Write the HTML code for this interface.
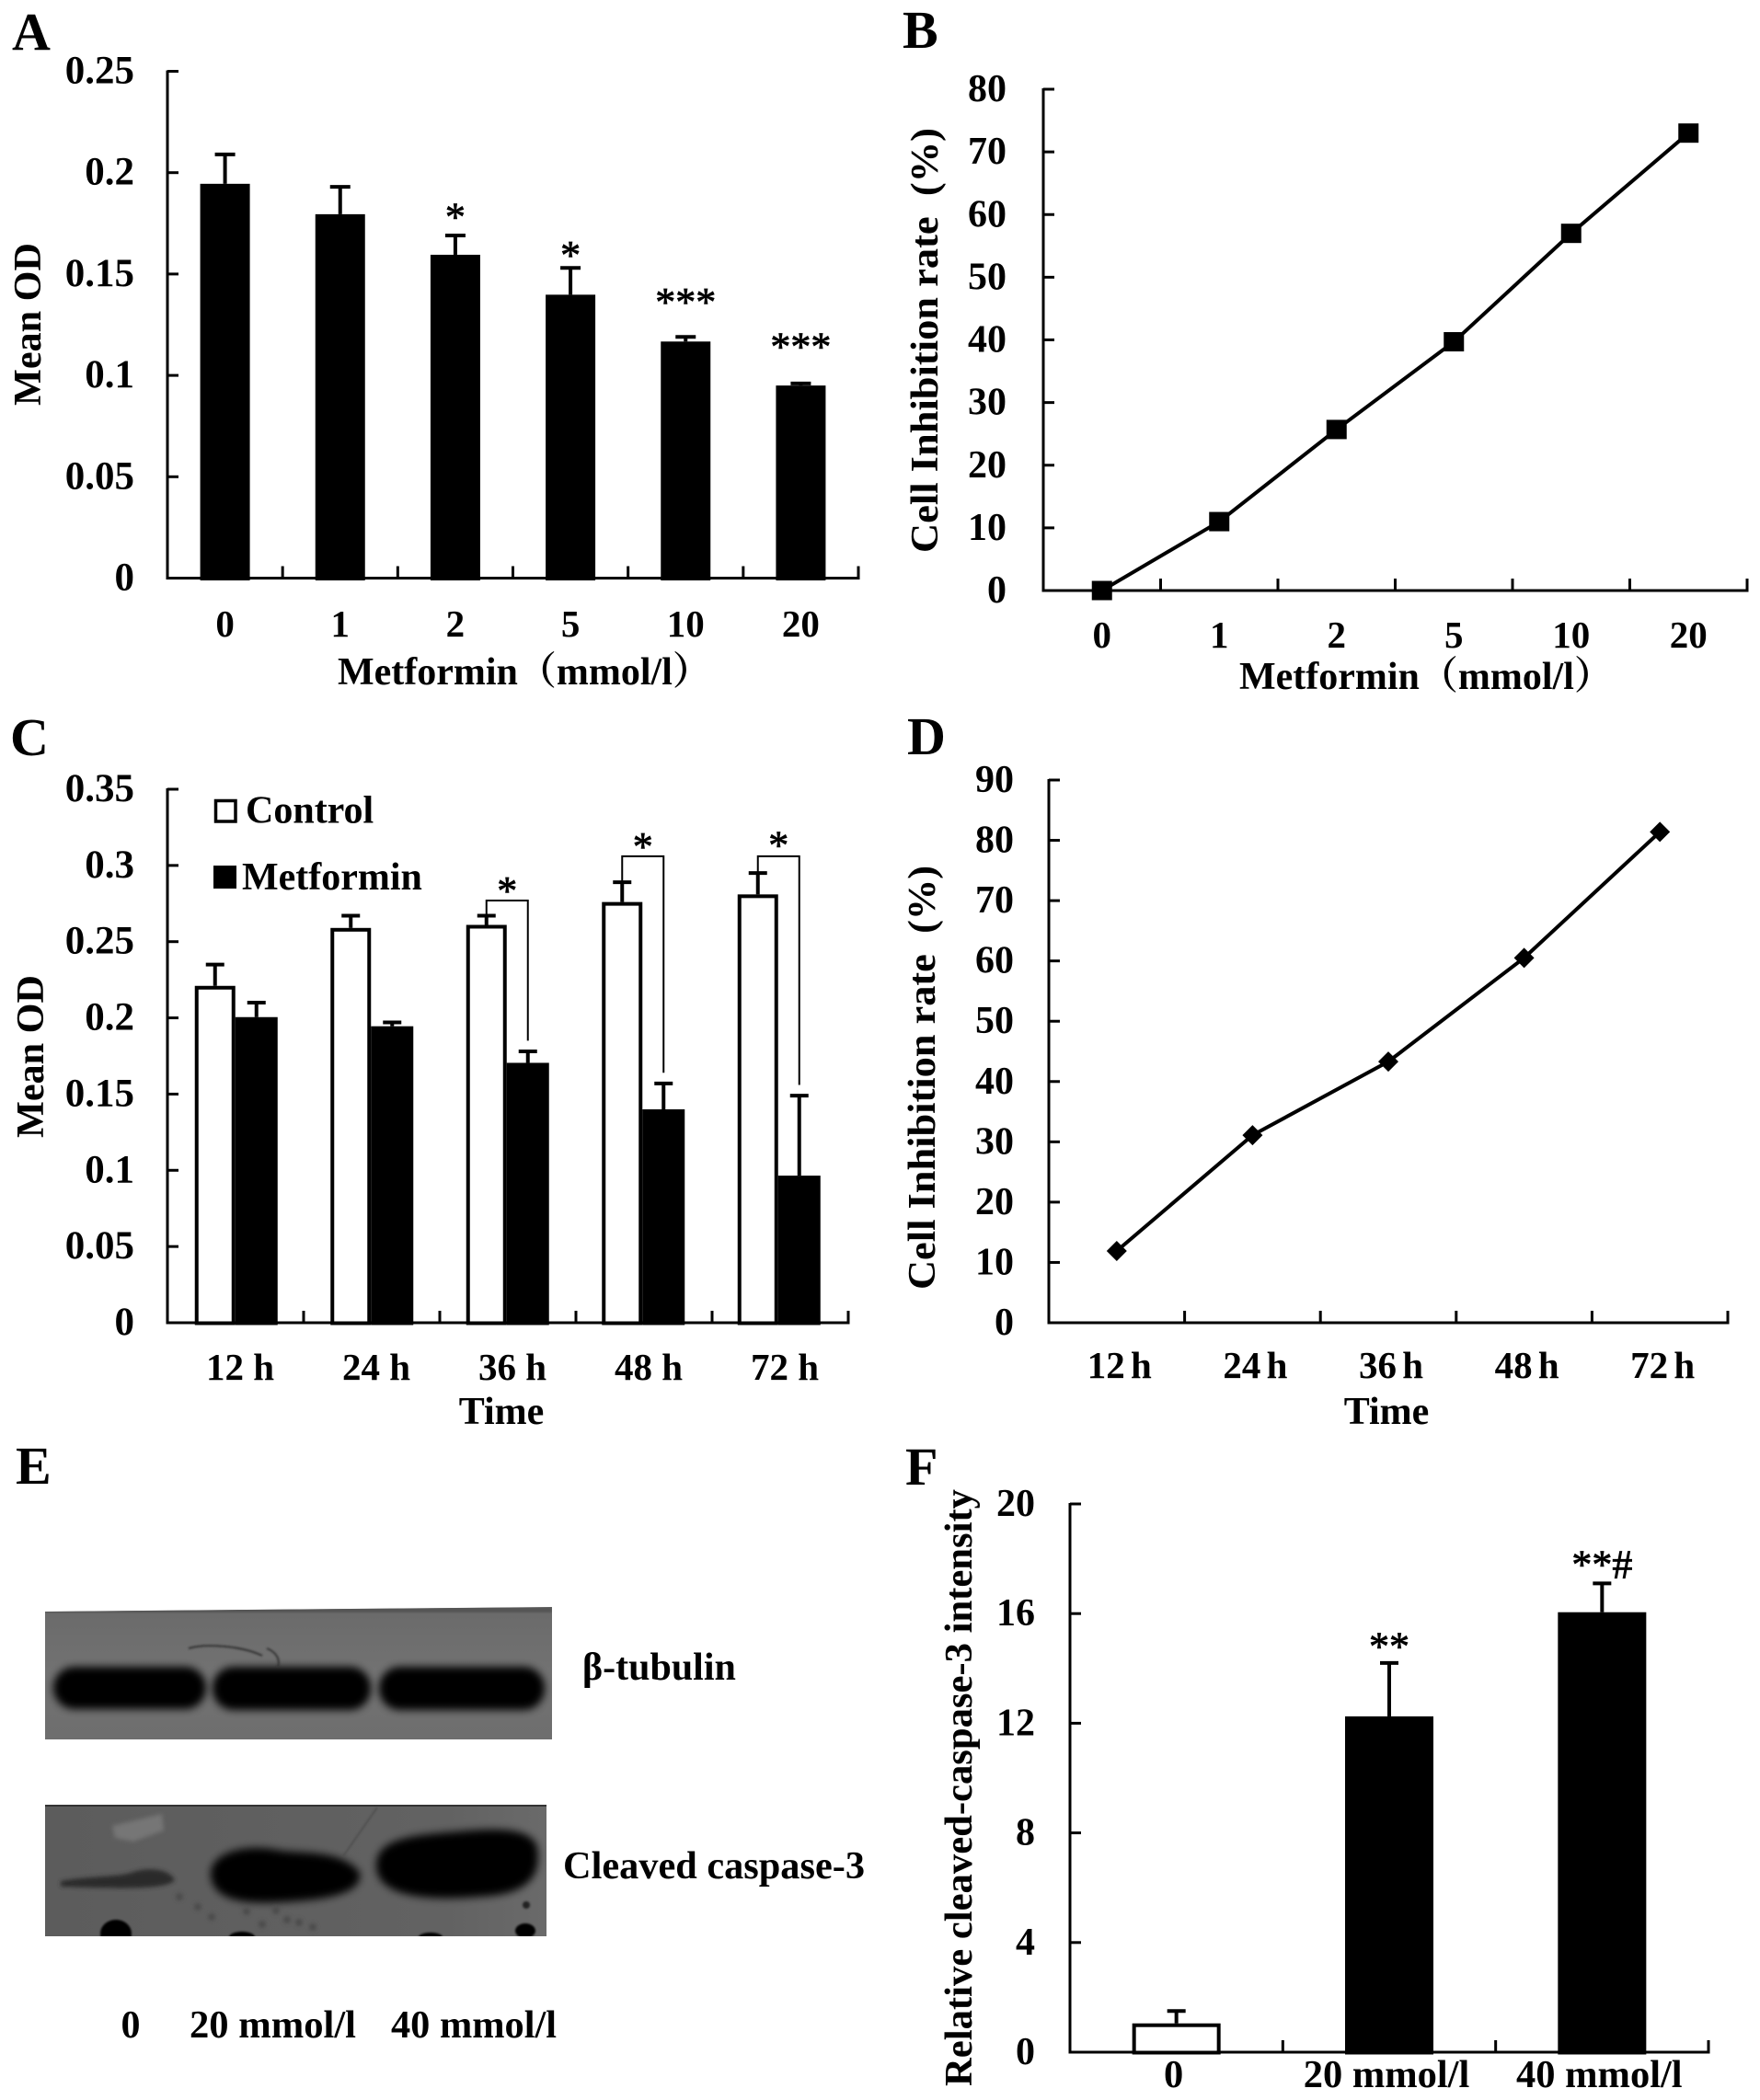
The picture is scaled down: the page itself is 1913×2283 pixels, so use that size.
<!DOCTYPE html>
<html lang="en">
<head>
<meta charset="utf-8">
<title>Metformin inhibition figure</title>
<style>
html,body{margin:0;padding:0;background:#fff;}
svg{display:block;}
text{font-family:"Liberation Serif","Noto Serif CJK SC",serif;font-weight:bold;fill:#000;}
.panel{font-size:58px;}
.title{font-size:42px;}
</style>
</head>
<body>
<svg id="figure" xmlns="http://www.w3.org/2000/svg" width="1913" height="2283" viewBox="0 0 1913 2283">
  <rect width="1913" height="2283" fill="#fff"/>
  <defs>
    <filter id="b1" x="-20%" y="-20%" width="140%" height="140%"><feGaussianBlur stdDeviation="1"/></filter>
    <filter id="b2" x="-20%" y="-20%" width="140%" height="140%"><feGaussianBlur stdDeviation="2.5"/></filter>
    <filter id="b4" x="-20%" y="-40%" width="140%" height="180%"><feGaussianBlur stdDeviation="4.5"/></filter>
    <clipPath id="clip1"><polygon points="49,1752 600,1747 600,1891 49,1891"/></clipPath>
    <clipPath id="clip2"><rect x="49" y="1962" width="545" height="143"/></clipPath>
    <linearGradient id="g1" x1="0" y1="0" x2="0" y2="1"><stop offset="0" stop-color="#6a6a6a"/><stop offset="0.5" stop-color="#727272"/><stop offset="1" stop-color="#6e6e6e"/></linearGradient>
    <linearGradient id="g2" x1="0" y1="0" x2="1" y2="0"><stop offset="0" stop-color="#5c5c5c"/><stop offset="0.8" stop-color="#626262"/><stop offset="1" stop-color="#6a6a6a"/></linearGradient>
  </defs>

  <!-- Panel letters -->
  <text class="panel" x="13" y="54">A</text>
  <text class="panel" x="981" y="52">B</text>
  <text class="panel" x="11" y="821">C</text>
  <text class="panel" x="986" y="820">D</text>
  <text class="panel" x="17" y="1613">E</text>
  <text class="panel" x="984" y="1614">F</text>

  <!-- Axis titles -->
  <text class="title" transform="translate(44,441) rotate(-90)" textLength="177" lengthAdjust="spacingAndGlyphs">Mean OD</text>
  <text class="title" x="367" y="744">Metformin（mmol/l）</text>
  <text class="title" transform="translate(1019,601) rotate(-90)" textLength="462" lengthAdjust="spacingAndGlyphs" xml:space="preserve">Cell Inhibition rate  (%)</text>
  <text class="title" x="1347" y="749">Metformin（mmol/l）</text>
  <text class="title" transform="translate(47,1237) rotate(-90)" textLength="177" lengthAdjust="spacingAndGlyphs">Mean OD</text>
  <text class="title" x="545" y="1548" text-anchor="middle">Time</text>
  <text class="title" transform="translate(1016,1402) rotate(-90)" textLength="461" lengthAdjust="spacingAndGlyphs" xml:space="preserve">Cell Inhibition rate  (%)</text>
  <text class="title" x="1507" y="1548" text-anchor="middle">Time</text>
  <text class="title" transform="translate(1056,2268) rotate(-90)" textLength="649" lengthAdjust="spacingAndGlyphs">Relative cleaved-caspase-3 intensity</text>

  <!-- Legend for panel C -->
  <g>
    <rect x="234.5" y="870.5" width="21.5" height="22.5" fill="#fff" stroke="#000" stroke-width="3.5"/>
    <text class="title" x="267" y="894.5">Control</text>
    <rect x="232" y="941" width="25" height="25" fill="#000"/>
    <text class="title" x="263" y="967">Metformin</text>
  </g>

  <!-- Panel E: western blots -->
  <g clip-path="url(#clip1)">
    <polygon points="49,1752 600,1747 600,1891 49,1891" fill="url(#g1)"/>
    <rect x="49" y="1747" width="551" height="6" fill="#555" filter="url(#b1)"/>
    <rect x="58" y="1812" width="166" height="46" rx="23" fill="#050505" filter="url(#b4)"/>
    <rect x="231" y="1812" width="172" height="47" rx="23" fill="#050505" filter="url(#b4)"/>
    <rect x="412" y="1812" width="180" height="47" rx="23" fill="#050505" filter="url(#b4)"/>
    <path d="M205,1792 C225,1786 265,1790 285,1800 M290,1792 C300,1796 305,1804 302,1812" fill="none" stroke="#333" stroke-width="2" filter="url(#b1)"/>
  </g>
  <g clip-path="url(#clip2)">
    <rect x="49" y="1962" width="545" height="143" fill="url(#g2)"/>
    <rect x="49" y="1962" width="545" height="2" fill="#333"/>
    <path d="M122,1985 L176,1972 L178,1990 L145,2002 L125,1998 Z" fill="#767676" filter="url(#b2)"/>
    <path d="M66,2045 C100,2039 130,2041 145,2035 C165,2029 185,2033 190,2044 C180,2055 130,2053 66,2051 Z" fill="#2a2a2a" filter="url(#b2)"/>
    <path d="M229,2036 C231,2012 270,2005 300,2011 C320,2016 372,2009 391,2036 C395,2060 350,2066 300,2068 C260,2070 229,2064 229,2036 Z" fill="#050505" filter="url(#b4)"/>
    <path d="M409,2028 C409,1998 450,1995 500,1991 C540,1987 578,1987 584,2008 C589,2042 572,2060 520,2062 C470,2066 409,2064 409,2028 Z" fill="#050505" filter="url(#b4)"/>
    <line x1="410" y1="1965" x2="373" y2="2018" stroke="#4a4a4a" stroke-width="1.5" filter="url(#b1)"/>
    <ellipse cx="126" cy="2102" rx="17" ry="15" fill="#000" filter="url(#b1)"/>
    <ellipse cx="263" cy="2106" rx="14" ry="6" fill="#000" filter="url(#b1)"/>
    <ellipse cx="468" cy="2106" rx="13" ry="5" fill="#000" filter="url(#b1)"/>
    <ellipse cx="571" cy="2099" rx="11" ry="8" fill="#000" filter="url(#b1)"/>
    <circle cx="572" cy="2071" r="4" fill="#222" filter="url(#b1)"/>
    <g fill="#4a4a4a" filter="url(#b2)">
      <circle cx="195" cy="2062" r="4"/><circle cx="215" cy="2073" r="4"/><circle cx="230" cy="2084" r="4"/>
      <circle cx="268" cy="2078" r="4"/><circle cx="300" cy="2077" r="4"/><circle cx="312" cy="2087" r="4"/>
      <circle cx="325" cy="2090" r="4"/><circle cx="340" cy="2095" r="4"/><circle cx="285" cy="2092" r="4"/>
    </g>
  </g>
  <text class="title" x="633" y="1826" font-size="40">β-tubulin</text>
  <text class="title" x="612" y="2042" textLength="328" lengthAdjust="spacingAndGlyphs">Cleaved caspase-3</text>
  <text class="title" x="142" y="2215" text-anchor="middle">0</text>
  <text class="title" x="206" y="2215" textLength="181" lengthAdjust="spacingAndGlyphs">20 mmol/l</text>
  <text class="title" x="425" y="2215" textLength="180" lengthAdjust="spacingAndGlyphs">40 mmol/l</text>

  <g id="charts"></g>
</svg>

<script>
// ---- Panel A data ----
const aCategories = ['0', '1', '2', '5', '10', '20'];
const aValues = [0.1945, 0.1795, 0.1595, 0.1398, 0.1167, 0.095];
const aErrorTops = [0.209, 0.193, 0.169, 0.153, 0.119, 0.096];
const aMarks = ['', '', '*', '*', '***', '***'];
const aMarkLevels = [0, 0, 0.181, 0.162, 0.139, 0.117];
const aTicks = [0, 0.05, 0.1, 0.15, 0.2, 0.25];
const aTickLabels = ['0', '0.05', '0.1', '0.15', '0.2', '0.25'];

// ---- Panel B data ----
const bCategories = ['0', '1', '2', '5', '10', '20'];
const bValues = [0, 11, 25.7, 39.7, 57, 73];
const bTicks = [0, 10, 20, 30, 40, 50, 60, 70, 80];
const bTickLabels = ['0', '10', '20', '30', '40', '50', '60', '70', '80'];

// ---- Panel C data ----
const cCategories = ['12 h', '24 h', '36 h', '48 h', '72 h'];
const cControl = [0.221, 0.259, 0.261, 0.276, 0.281];
const cControlErrorTops = [0.235, 0.267, 0.267, 0.289, 0.295];
const cMetformin = [0.2005, 0.1945, 0.1705, 0.14, 0.0965];
const cMetforminErrorTops = [0.21, 0.197, 0.178, 0.157, 0.149];
const cBracketGroups = [2, 3, 4];
const cBracketTops = [0.277, 0.306, 0.306];
const cBracketEnds = [0.185, 0.164, 0.156];
const cStarLevels = [0.287, 0.316, 0.317];
const cTicks = [0, 0.05, 0.1, 0.15, 0.2, 0.25, 0.3, 0.35];
const cTickLabels = ['0', '0.05', '0.1', '0.15', '0.2', '0.25', '0.3', '0.35'];

// ---- Panel D data ----
const dCategories = ['12 h', '24 h', '36 h', '48 h', '72 h'];
const dValues = [11.9, 31.1, 43.3, 60.5, 81.4];
const dTicks = [0, 10, 20, 30, 40, 50, 60, 70, 80, 90];
const dTickLabels = ['0', '10', '20', '30', '40', '50', '60', '70', '80', '90'];

// ---- Panel F data ----
const fCategories = ['0', '20 mmol/l', '40 mmol/l'];
const fValues = [1.05, 12.25, 16.05];
const fErrorTops = [1.5, 14.2, 17.1];
const fFilled = [false, true, true];
const fMarks = ['', '**', '**#'];
const fMarkLevels = [0, 15, 18];
const fTicks = [0, 4, 8, 12, 16, 20];
const fTickLabels = ['0', '4', '8', '12', '16', '20'];

const NS = 'http://www.w3.org/2000/svg';
const root = document.getElementById('charts');

function svgEl(tag, attrs, parent) {
  const el = document.createElementNS(NS, tag);
  for (const k in attrs) el.setAttribute(k, attrs[k]);
  parent.appendChild(el);
  return el;
}
function linearY(base, top, max) {
  return function (v) { return base - (v / max) * (base - top); };
}
function bandX(left, right, n) {
  return function (i) { return left + (i + 0.5) * (right - left) / n; };
}
function newPanel(name) {
  const g = svgEl('g', {}, root);
  
  
  return g;
}

// Draws axis lines, tick marks and tick labels for one panel.
function drawAxes(g, box, ticks, tickLabels, categories, y) {
  const yAxis = svgEl('line', { x1: box.left, y1: box.top - 1, x2: box.left, y2: box.base + 1.5, stroke: '#000', 'stroke-width': 3 }, g);
  
  
  const xAxis = svgEl('line', { x1: box.left - 1.5, y1: box.base, x2: box.right + 1.5, y2: box.base, stroke: '#000', 'stroke-width': 3 }, g);
  
  
  ticks.forEach(function (t, i) {
    const mark = svgEl('line', { x1: box.left, y1: y(t), x2: box.left + 12, y2: y(t), stroke: '#000', 'stroke-width': 3 }, g);
    
    
    const label = svgEl('text', { x: box.labelRight, y: y(t) + 13, 'text-anchor': 'end', 'font-size': box.yFontSize }, g);
    
    
    label.textContent = tickLabels[i];
  });
  const n = categories.length;
  const x = bandX(box.left, box.right, n);
  for (let i = 1; i <= n; i++) {
    const px = box.left + i * (box.right - box.left) / n;
    const mark = svgEl('line', { x1: px, y1: box.base, x2: px, y2: box.base - 13, stroke: '#000', 'stroke-width': 3 }, g);
    
    
  }
  categories.forEach(function (c, i) {
    const label = svgEl('text', { x: x(i) + box.labelShift, y: box.xLabelY, 'text-anchor': 'middle', 'font-size': box.xFontSize, 'word-spacing': box.wordSpacing || 0 }, g);
    
    
    label.textContent = c;
  });
}

function drawErrorBar(g, cx, yFrom, yTo, capWidth) {
  const stem = svgEl('line', { x1: cx, y1: yFrom, x2: cx, y2: yTo, stroke: '#000', 'stroke-width': 4 }, g);
  
  
  const cap = svgEl('line', { x1: cx - capWidth / 2, y1: yTo, x2: cx + capWidth / 2, y2: yTo, stroke: '#000', 'stroke-width': 4 }, g);
  
  
}

function drawBar(g, x0, width, yTop, base, filled) {
  const inset = filled ? 0 : 2;
  const bar = svgEl('rect', {
    x: x0 + inset, y: yTop + inset, width: width - 2 * inset, height: base + 2.5 - yTop - 2 * inset,
    fill: filled ? '#000' : '#fff', stroke: filled ? 'none' : '#000', 'stroke-width': 4
  }, g);
  
  
}

function drawMark(g, cx, cy, text) {
  const fs = 44;
  const t = svgEl('text', { x: cx, y: cy + 0.47 * fs, 'text-anchor': 'middle', 'font-size': fs, 'font-weight': 'normal', style: 'font-weight:normal;stroke:#000;stroke-width:0.8' }, g);
  
  
  t.textContent = text;
}

// ---- Panel A ----
(function () {
  const g = newPanel('panel-a-bar-chart');
  const box = { left: 182, right: 933, top: 77.5, base: 628.5, labelRight: 146, xLabelY: 692, labelShift: 0, yFontSize: 43, xFontSize: 41 };
  const y = linearY(box.base, box.top, 0.25);
  const x = bandX(box.left, box.right, aCategories.length);
  aValues.forEach(function (v, i) {
    drawErrorBar(g, x(i), y(v), y(aErrorTops[i]), 22);
    drawBar(g, x(i) - 27, 54, y(v), box.base, true);
    if (aMarks[i]) drawMark(g, x(i), y(aMarkLevels[i]), aMarks[i]);
  });
  drawAxes(g, box, aTicks, aTickLabels, aCategories, y);
})();

// ---- Panel B ----
function drawLinePanel(g, box, values, y, markerShape) {
  const x = bandX(box.left, box.right, values.length);
  const pts = values.map(function (v, i) { return x(i) + ',' + y(v); }).join(' ');
  const line = svgEl('polyline', { points: pts, fill: 'none', stroke: '#000', 'stroke-width': 4, 'stroke-linejoin': 'round' }, g);
  
  
  values.forEach(function (v, i) {
    let m;
    if (markerShape === 'square') {
      m = svgEl('rect', { x: x(i) - 11, y: y(v) - 10.5, width: 22, height: 21, fill: '#000' }, g);
    } else {
      const cx = x(i), cy = y(v);
      m = svgEl('polygon', { points: (cx - 11) + ',' + cy + ' ' + cx + ',' + (cy - 11) + ' ' + (cx + 11) + ',' + cy + ' ' + cx + ',' + (cy + 11), fill: '#000' }, g);
    }
    
    
  });
}
(function () {
  const g = newPanel('panel-b-line-chart');
  const box = { left: 1134, right: 1899, top: 97, base: 642, labelRight: 1094, xLabelY: 704, labelShift: 0, yFontSize: 42, xFontSize: 41 };
  const y = linearY(box.base, box.top, 80);
  drawAxes(g, box, bTicks, bTickLabels, bCategories, y);
  drawLinePanel(g, box, bValues, y, 'square');
})();

// ---- Panel C ----
(function () {
  const g = newPanel('panel-c-grouped-bar-chart');
  const box = { left: 182, right: 922, top: 858, base: 1438, labelRight: 146, xLabelY: 1500, labelShift: 5, yFontSize: 43, xFontSize: 41 };
  const y = linearY(box.base, box.top, 0.35);
  const x = bandX(box.left, box.right - 2.5, cCategories.length);
  const wControl = 44;
  const wMetformin = 46;
  cCategories.forEach(function (c, i) {
    const cc = x(i) - wControl / 2, mc = x(i) + wMetformin / 2;
    drawErrorBar(g, cc, y(cControl[i]), y(cControlErrorTops[i]), 20);
    drawErrorBar(g, mc, y(cMetformin[i]), y(cMetforminErrorTops[i]), 20);
    drawBar(g, cc - wControl / 2, wControl, y(cControl[i]), box.base, false);
    drawBar(g, x(i), wMetformin, y(cMetformin[i]), box.base, true);
  });
  cBracketGroups.forEach(function (gi, j) {
    const cc = x(gi) - wControl / 2, mc = x(gi) + wMetformin / 2;
    const d = 'M' + cc + ',' + y(cControlErrorTops[gi]) + ' L' + cc + ',' + y(cBracketTops[j]) + ' L' + mc + ',' + y(cBracketTops[j]) + ' L' + mc + ',' + y(cBracketEnds[j]);
    const b = svgEl('path', { d: d, fill: 'none', stroke: '#000', 'stroke-width': 2 }, g);
    
    
    drawMark(g, (cc + mc) / 2, y(cStarLevels[j]), '*');
  });
  drawAxes(g, box, cTicks, cTickLabels, cCategories, y);
})();

// ---- Panel D ----
(function () {
  const g = newPanel('panel-d-line-chart');
  const box = { left: 1140, right: 1878, top: 848, base: 1438, labelRight: 1102, xLabelY: 1498, labelShift: 3, yFontSize: 42, xFontSize: 41, wordSpacing: -4 };
  const y = linearY(box.base, box.top, 90);
  drawAxes(g, box, dTicks, dTickLabels, dCategories, y);
  drawLinePanel(g, box, dValues, y, 'diamond');
})();

// ---- Panel F ----
(function () {
  const g = newPanel('panel-f-bar-chart');
  const box = { left: 1163, right: 1857, top: 1635, base: 2231, labelRight: 1125, xLabelY: 2269, labelShift: -3, yFontSize: 42, xFontSize: 42.5 };
  const y = linearY(box.base, box.top, 20);
  const x = bandX(box.left, box.right, fCategories.length);
  fValues.forEach(function (v, i) {
    drawErrorBar(g, x(i), y(v), y(fErrorTops[i]), 20);
    drawBar(g, x(i) - 48, 96, y(v), box.base, fFilled[i]);
    if (fMarks[i]) drawMark(g, x(i), y(fMarkLevels[i]), fMarks[i]);
  });
  drawAxes(g, box, fTicks, fTickLabels, fCategories, y);
})();
</script>
</body>
</html>
